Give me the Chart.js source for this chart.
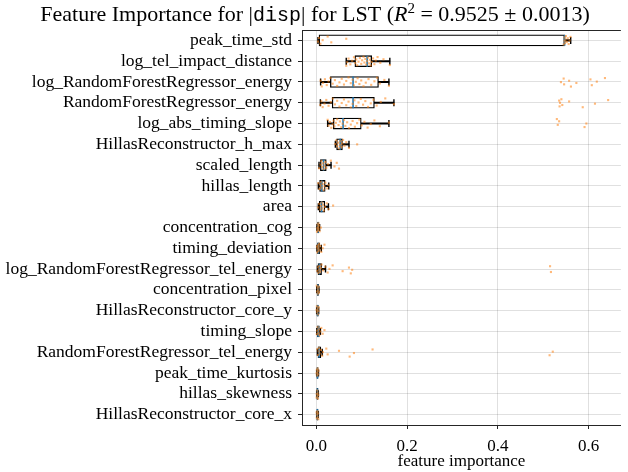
<!DOCTYPE html>
<html>
<head>
<meta charset="utf-8">
<script src="https://cdn.jsdelivr.net/npm/chart.js@4/dist/chart.umd.min.js"></script>
<style>
  html, body { margin: 0; padding: 0; background: #ffffff; }
  canvas { display: block; }
</style>
</head>
<body>
<canvas id="chart" width="628" height="472"></canvas>
<script>
// Feature names, top to bottom
const features = [
  'peak_time_std', 'log_tel_impact_distance', 'log_RandomForestRegressor_energy',
  'RandomForestRegressor_energy', 'log_abs_timing_slope', 'HillasReconstructor_h_max',
  'scaled_length', 'hillas_length', 'area', 'concentration_cog', 'timing_deviation',
  'log_RandomForestRegressor_tel_energy', 'concentration_pixel', 'HillasReconstructor_core_y',
  'timing_slope', 'RandomForestRegressor_tel_energy', 'peak_time_kurtosis',
  'hillas_skewness', 'HillasReconstructor_core_x'
];

// Box statistics per feature
const q1 = [0.006, 0.085, 0.031, 0.035, 0.0375, 0.0447, 0.009, 0.0073, 0.0067, 0.0026,
  0.0026, 0.0037, 0.002, 0.0013, 0.002, 0.0037, 0.0013, 0.0012, 0.0012];
const median = [0.547, 0.112, 0.081, 0.081, 0.059, 0.0526, 0.016, 0.0123, 0.0116, 0.004,
  0.0045, 0.0067, 0.0035, 0.003, 0.004, 0.006, 0.0025, 0.0025, 0.0025];
const q3 = [0.547, 0.122, 0.137, 0.128, 0.099, 0.0576, 0.022, 0.0196, 0.0188, 0.0058,
  0.0073, 0.0116, 0.005, 0.0045, 0.0067, 0.010, 0.004, 0.0038, 0.0038];
const whiskerLo = [0.0037, 0.066, 0.0095, 0.009, 0.025, 0.042, 0.006, 0.0045, 0.0045, 0.0015,
  0.0015, 0.0024, 0.001, 0.0008, 0.0012, 0.0024, 0.0008, 0.0008, 0.0008];
const whiskerHi = [0.5605, 0.162, 0.160, 0.171, 0.160, 0.072, 0.0325, 0.0274, 0.0267, 0.0073,
  0.011, 0.0203, 0.0058, 0.0052, 0.009, 0.013, 0.0048, 0.0045, 0.0045];

// Individual importance samples per feature
const samples = [
  [0.0037, 0.006, 0.009, 0.014, 0.025, 0.033, 0.066, 0.545, 0.547, 0.547, 0.548, 0.549, 0.550, 0.552, 0.554, 0.556, 0.558, 0.560],
  [0.066, 0.068, 0.071, 0.075, 0.079, 0.083, 0.086, 0.088, 0.090, 0.093, 0.096, 0.099, 0.101, 0.104, 0.106, 0.108, 0.110, 0.112, 0.114, 0.116, 0.118, 0.120, 0.122, 0.125, 0.128, 0.131, 0.135, 0.141, 0.148, 0.162],
  [0.0095, 0.012, 0.015, 0.019, 0.023, 0.027, 0.031, 0.036, 0.041, 0.046, 0.051, 0.056, 0.061, 0.066, 0.071, 0.076, 0.080, 0.083, 0.087, 0.091, 0.095, 0.099, 0.104, 0.109, 0.115, 0.121, 0.128, 0.134, 0.140, 0.150, 0.160, 0.539, 0.545, 0.546, 0.557, 0.561, 0.573, 0.604, 0.607, 0.618, 0.636],
  [0.009, 0.011, 0.014, 0.018, 0.022, 0.027, 0.032, 0.036, 0.041, 0.046, 0.051, 0.056, 0.061, 0.066, 0.071, 0.076, 0.080, 0.084, 0.088, 0.093, 0.098, 0.103, 0.108, 0.114, 0.120, 0.126, 0.133, 0.142, 0.152, 0.171, 0.535, 0.536, 0.537, 0.540, 0.542, 0.557, 0.587, 0.614, 0.643],
  [0.025, 0.027, 0.030, 0.033, 0.036, 0.038, 0.040, 0.043, 0.046, 0.049, 0.052, 0.055, 0.058, 0.061, 0.064, 0.068, 0.072, 0.076, 0.080, 0.085, 0.090, 0.095, 0.100, 0.106, 0.113, 0.120, 0.128, 0.140, 0.160, 0.530, 0.532, 0.535, 0.591, 0.595],
  [0.042, 0.044, 0.046, 0.048, 0.050, 0.052, 0.053, 0.055, 0.057, 0.059, 0.062, 0.066, 0.072, 0.090],
  [0.006, 0.009, 0.011, 0.013, 0.015, 0.016, 0.018, 0.020, 0.022, 0.026, 0.032, 0.040, 0.045, 0.050],
  [0.0045, 0.007, 0.009, 0.011, 0.012, 0.014, 0.016, 0.018, 0.020, 0.024, 0.027],
  [0.0045, 0.0065, 0.009, 0.010, 0.012, 0.013, 0.015, 0.017, 0.019, 0.023, 0.027, 0.037],
  [0.0015, 0.0025, 0.003, 0.0035, 0.004, 0.0045, 0.005, 0.006, 0.0073, 0.010],
  [0.0015, 0.0025, 0.003, 0.004, 0.0045, 0.005, 0.006, 0.0073, 0.009, 0.011, 0.014, 0.018],
  [0.0024, 0.0037, 0.005, 0.006, 0.0067, 0.008, 0.010, 0.0116, 0.015, 0.020, 0.025, 0.029, 0.036, 0.058, 0.072, 0.076, 0.079, 0.515, 0.517],
  [0.001, 0.002, 0.0028, 0.0035, 0.004, 0.005, 0.0058],
  [0.0008, 0.0013, 0.002, 0.003, 0.0035, 0.0045, 0.0052],
  [0.0012, 0.002, 0.003, 0.004, 0.005, 0.0067, 0.009, 0.011, 0.014, 0.018],
  [0.0024, 0.0037, 0.005, 0.006, 0.0075, 0.010, 0.013, 0.0145, 0.022, 0.025, 0.050, 0.0735, 0.083, 0.124, 0.514, 0.521],
  [0.0008, 0.0013, 0.002, 0.0025, 0.003, 0.004, 0.0048],
  [0.0008, 0.0012, 0.002, 0.0025, 0.003, 0.0038, 0.0045],
  [0.0008, 0.0012, 0.0018, 0.0024, 0.003, 0.0038, 0.0045]
];

const xTicks = [0.0, 0.2, 0.4, 0.6];

// ---- derived datasets ----
const SERIF = '"Liberation Serif", "Times New Roman", serif';
const MONO = '"Liberation Mono", "DejaVu Sans Mono", monospace';

const boxRanges = features.map((_, i) => [q1[i], q3[i]]);
const whiskerRanges = features.map((_, i) => [whiskerLo[i], whiskerHi[i]]);
const medianPts = features.map((f, i) => ({ x: median[i], y: f }));
const capPts = [];
features.forEach((f, i) => {
  capPts.push({ x: whiskerLo[i], y: f });
  capPts.push({ x: whiskerHi[i], y: f });
});
// strip points: category index plus a small vertical spread from a fixed
// low-discrepancy sequence (not parsed, so fractional indices are kept)
const stripPts = [];
samples.forEach((vals, i) => {
  vals.forEach((v, k) => {
    const frac = ((k + 1) * 0.6180339887 + i * 0.37) % 1;
    stripPts.push({ x: v, y: i + (frac - 0.5) * 0.45 });
  });
});

// Title with mixed fonts (typewriter for the target name, italic R²)
const titlePlugin = {
  id: 'mixedTitle',
  afterDraw(chart) {
    const ctx = chart.ctx;
    const size = 22;
    const parts = [
      { t: 'Feature Importance for |', f: `${size}px ${SERIF}` },
      { t: 'disp', f: `20px ${MONO}` },
      { t: '| for LST (', f: `${size}px ${SERIF}` },
      { t: 'R', f: `italic ${size}px ${SERIF}` },
      { t: '2', f: `15px ${SERIF}`, dy: -8 },
      { t: ' = 0.9525 \u00b1 0.0013)', f: `${size}px ${SERIF}` }
    ];
    ctx.save();
    let total = 0;
    parts.forEach(p => { ctx.font = p.f; p.w = ctx.measureText(p.t).width; total += p.w; });
    let x = 315 - total / 2;
    const base = 21;
    ctx.fillStyle = '#000';
    ctx.textBaseline = 'alphabetic';
    ctx.textAlign = 'left';
    parts.forEach(p => {
      ctx.font = p.f;
      ctx.fillText(p.t, x, base + (p.dy || 0));
      x += p.w;
    });
    ctx.restore();
  }
};

// top spine of the axes frame
const framePlugin = {
  id: 'frameTop',
  afterDatasetsDraw(chart) {
    const { ctx, chartArea } = chart;
    ctx.save();
    ctx.strokeStyle = '#262626';
    ctx.lineWidth = 1;
    ctx.beginPath();
    ctx.moveTo(chartArea.left, chartArea.top + 0.5);
    ctx.lineTo(chartArea.right, chartArea.top + 0.5);
    ctx.stroke();
    ctx.restore();
  }
};

new Chart(document.getElementById('chart'), {
  type: 'bar',
  data: {
    labels: features,
    datasets: [
      {
        type: 'scatter',
        data: stripPts,
        parsing: false,
        normalized: true,
        backgroundColor: 'rgba(255,127,14,0.55)',
        borderWidth: 0,
        pointRadius: 1.5,
        pointStyle: 'rect',
        order: 0
      },
      {
        type: 'scatter',
        data: medianPts,
        pointStyle: 'line',
        rotation: 90,
        pointRadius: 5.5,
        borderColor: '#1f77b4',
        borderWidth: 1.6,
        order: 1
      },
      {
        type: 'scatter',
        data: capPts,
        pointStyle: 'line',
        rotation: 90,
        pointRadius: 3.5,
        borderColor: '#000',
        borderWidth: 1.4,
        order: 2
      },
      {
        type: 'bar',
        data: boxRanges,
        grouped: false,
        barThickness: 11,
        backgroundColor: '#ffffff',
        borderColor: '#000000',
        borderWidth: 1.3,
        borderSkipped: false,
        order: 3
      },
      {
        type: 'bar',
        data: whiskerRanges,
        grouped: false,
        barThickness: 1.4,
        backgroundColor: '#000000',
        borderWidth: 0,
        order: 4
      }
    ]
  },
  options: {
    indexAxis: 'y',
    responsive: false,
    animation: false,
    devicePixelRatio: 1,
    layout: { padding: { top: 30, right: 0, left: 0, bottom: 0 } },
    plugins: { legend: { display: false }, tooltip: { enabled: false }, title: { display: false } },
    scales: {
      x: {
        type: 'linear',
        min: -0.0315,
        max: 0.6711,
        afterBuildTicks: s => { s.ticks = xTicks.map(v => ({ value: v })); },
        afterFit: s => { s.height = 47; },
        ticks: {
          color: '#000',
          font: { family: SERIF, size: 17 },
          padding: 7,
          callback: v => Number(v).toFixed(1)
        },
        grid: { color: 'rgba(0,0,0,0.12)', lineWidth: 1, tickColor: '#262626', tickLength: 4 },
        border: { display: true, color: '#262626', width: 1 },
        title: {
          display: true,
          text: 'feature importance',
          color: '#000',
          font: { family: SERIF, size: 17 },
          padding: { top: 0, bottom: 0 }
        }
      },
      y: {
        type: 'category',
        labels: features,
        offset: true,
        afterFit: s => { s.width = 302; },
        ticks: {
          color: '#000',
          font: { family: SERIF, size: 17.5 },
          padding: 6,
          autoSkip: false
        },
        grid: { offset: false, color: 'rgba(0,0,0,0.12)', lineWidth: 1, tickColor: '#262626', tickLength: 4 },
        border: { display: true, color: '#262626', width: 1 }
      }
    }
  },
  plugins: [titlePlugin, framePlugin]
});
</script>
</body>
</html>
